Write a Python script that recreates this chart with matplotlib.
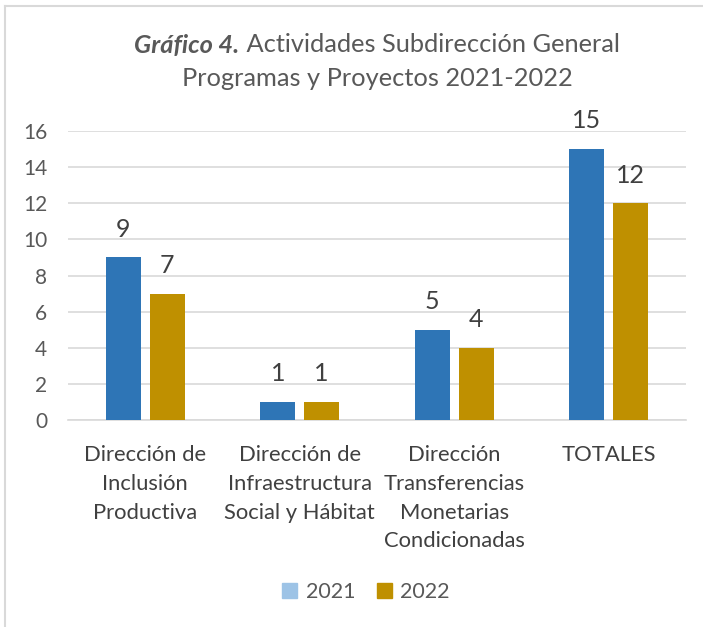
import matplotlib
matplotlib.use("Agg")
import matplotlib.pyplot as plt
from matplotlib.patches import Patch
from matplotlib.lines import Line2D
import numpy as np

categories = ["Dirección de\nInclusión\nProductiva",
              "Dirección de\nInfraestructura\nSocial y Hábitat",
              "Dirección\nTransferencias\nMonetarias\nCondicionadas",
              "TOTALES"]
series_names = ["2021", "2022"]
values_2021 = [9, 1, 5, 15]
values_2022 = [7, 1, 4, 12]
yticks = [0, 2, 4, 6, 8, 10, 12, 14, 16]

FONT = ["Lato", "DejaVu Sans"]
plt.rcParams['font.family'] = FONT

W, H = 703, 627
fig = plt.figure(figsize=(W/100, H/100), dpi=100)
ax = fig.add_axes([68/W, 1-420/H, (686-68)/W, (420-131)/H])

c1, c2 = "#2E75B6", "#BF9000"
x = np.arange(len(categories))
bw = 0.227
off = 0.142
b1 = ax.bar(x - off, values_2021, bw, color=c1, zorder=3)
b2 = ax.bar(x + off, values_2022, bw, color=c2, zorder=3)
for bars in (b1, b2):
    ax.bar_label(bars, padding=12, fontsize=18, color="#404040")

ax.set_xlim(-0.5, 3.5)
ax.set_ylim(0, 16)
ax.set_yticks(yticks)
ax.set_yticklabels([str(t) for t in yticks], fontsize=15, color="#595959")
ax.set_xticks(x)
ax.set_xticklabels(categories, fontsize=15.8, color="#404040", linespacing=1.55)
ax.tick_params(axis='both', length=0)
ax.tick_params(axis='x', pad=18)
ax.tick_params(axis='y', pad=15)
ax.grid(axis='y', color="#D9D9D9", linewidth=1.2, zorder=0)
for s in ["top", "right", "left"]:
    ax.spines[s].set_visible(False)
ax.spines["bottom"].set_color("#D9D9D9")
ax.spines["bottom"].set_linewidth(1.2)

# title
cx = (68 + 686) / 2 / W
t_bold = fig.text(0, 1-45/H, "Gráfico 4.", fontsize=18.3, fontweight="bold",
                  fontstyle="italic", color="#595959", va="center", ha="left")
t_rest = fig.text(0, 1-45/H, " Actividades Subdirección General", fontsize=18.3,
                  color="#595959", va="center", ha="left")
fig.canvas.draw()
r = fig.canvas.get_renderer()
wb = t_bold.get_window_extent(r).width
wr = t_rest.get_window_extent(r).width
start = cx * W - (wb + wr) / 2
t_bold.set_x(start / W)
t_rest.set_x((start + wb) / W)
fig.text(cx, 1-79/H, "Programas y Proyectos 2021-2022", fontsize=18.3,
         color="#595959", va="center", ha="center")

handles = [Patch(color="#9DC3E6"), Patch(color=c2)]
fig.legend(handles, series_names, loc="center", bbox_to_anchor=(366/W, 1-592/H),
           ncol=2, frameon=False, fontsize=15.5, labelcolor="#595959",
           handlelength=0.7, handleheight=0.7, handletextpad=0.4, columnspacing=1.0)

# border (left and top)
fig.add_artist(Line2D([4.5/W, 4.5/W], [0, 1-6/H], color="#D9D9D9", lw=1.5))
fig.add_artist(Line2D([4.5/W, 1], [1-6/H, 1-6/H], color="#D9D9D9", lw=1.5))

fig.savefig("out.png", dpi=100)
